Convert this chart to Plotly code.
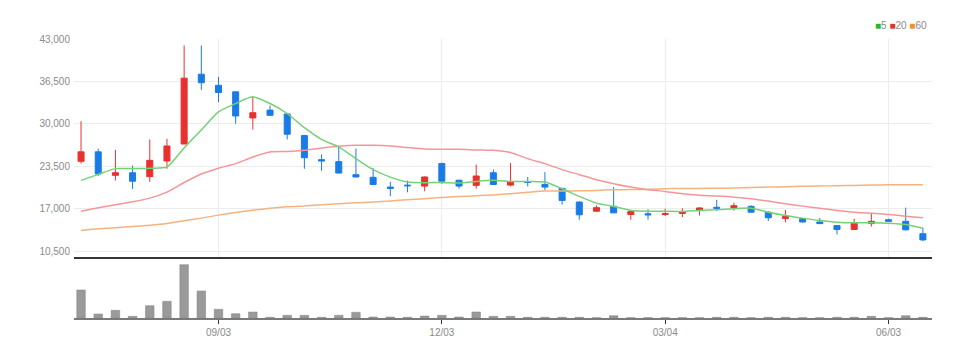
import plotly.graph_objects as go

dates = ["2020-07-09", "2020-07-16", "2020-07-23", "2020-07-30", "2020-08-06", "2020-08-13",
         "2020-08-20", "2020-08-27", "2020-09-03", "2020-09-10", "2020-09-17", "2020-09-24",
         "2020-10-01", "2020-10-08", "2020-10-15", "2020-10-22", "2020-10-29", "2020-11-05",
         "2020-11-12", "2020-11-19", "2020-11-26", "2020-12-03", "2020-12-10", "2020-12-17",
         "2020-12-24", "2020-12-31", "2021-01-07", "2021-01-14", "2021-01-21", "2021-01-28",
         "2021-02-04", "2021-02-11", "2021-02-18", "2021-02-25", "2021-03-04", "2021-03-11",
         "2021-03-18", "2021-03-25", "2021-04-01", "2021-04-08", "2021-04-15", "2021-04-22",
         "2021-04-29", "2021-05-06", "2021-05-13", "2021-05-20", "2021-05-27", "2021-06-03",
         "2021-06-10", "2021-06-17"]

opens = [24250, 25700, 22100, 22500, 21900, 24300, 26900, 37600, 35900, 34900,
         30900, 32100, 31500, 28200, 24500, 24200, 22200, 21800, 20300, 20600,
         20450, 23900, 21350, 20550, 22500, 20600, 21150, 20700, 20100, 18000,
         16600, 17350, 16100, 16200, 16100, 16250, 16800, 17200, 17150, 17350,
         16450, 15500, 15450, 14950, 14400, 13800, 14700, 15300, 15050, 13150]
highs = [30400, 26200, 26000, 23600, 27600, 27700, 42000, 42000, 37200, 34900,
         34100, 32800, 31600, 28300, 25300, 26450, 26200, 23200, 21100, 21300,
         21950, 24050, 21450, 23750, 23000, 24000, 21850, 22600, 20200, 18100,
         17500, 20300, 16800, 16900, 17000, 17050, 17200, 18350, 17900, 17500,
         16600, 16800, 15550, 15550, 14450, 15450, 16350, 15450, 17150, 14050]
lows = [23900, 22000, 21300, 20000, 21100, 23100, 26900, 35200, 33300, 30000,
        29100, 31250, 27600, 23100, 22800, 22400, 21800, 20600, 18900, 19500,
        19650, 20800, 20050, 20050, 20600, 20400, 20400, 19800, 17600, 15300,
        16550, 16300, 15300, 15300, 15850, 15700, 15950, 16650, 16700, 16400,
        15100, 14900, 14850, 14650, 13050, 13750, 14250, 15000, 13650, 12000]
closes = [25700, 22300, 22500, 21200, 24400, 26600, 37000, 36300, 34800, 31200,
          31700, 31300, 28400, 24800, 24300, 22450, 21850, 20700, 20100, 20500,
          21850, 21200, 20450, 22000, 20700, 21150, 21000, 20300, 18250, 16050,
          17150, 16350, 16550, 16050, 16250, 16450, 17100, 17050, 17450, 16450,
          15600, 15800, 14950, 14700, 13800, 14750, 15050, 15050, 13750, 12200]

ma5 = [21330, 22250, 23130, 23130, 23200, 23370, 26300, 29050, 31830, 33120,
       34130, 33120, 31580, 29400, 27600, 26450, 24660, 22970, 21830, 21070,
       20970, 21020, 20920, 21170, 21330, 21170, 21170, 21070, 20050, 18870,
       17840, 17330, 16720, 16610, 16610, 16560, 16720, 16820, 16980, 17070,
       16450, 15950, 15540, 15180, 14920, 14820, 14820, 14770, 14560, 14000]
ma20 = [16610, 17130, 17590, 18050, 18610, 19530, 21000, 22300, 23200, 23900,
        24910, 25680, 25750, 25940, 26300, 26550, 26700, 26700, 26600, 26350,
        26150, 26100, 26100, 26000, 25940, 25600, 24660, 23890, 22970, 22200,
        21430, 20820, 20300, 19900, 19640, 19280, 19050, 18920, 18760, 18510,
        18150, 17740, 17380, 17070, 16720, 16450, 16300, 16100, 15840, 15590]
ma60 = [13640, 13900, 14080, 14250, 14450, 14720, 15130, 15540, 16000, 16400,
        16750, 17070, 17280, 17400, 17600, 17760, 17880, 18000, 18180, 18360,
        18520, 18700, 18840, 18970, 19100, 19280, 19500, 19680, 19700, 19720,
        19790, 19880, 19920, 19950, 20050, 20080, 20100, 20120, 20150, 20220,
        20300, 20360, 20410, 20460, 20510, 20560, 20610, 20640, 20660, 20670]

volumes = [280000, 40000, 77000, 17000, 123000, 167000, 533000, 270000, 87000, 43000,
           60000, 7000, 27000, 27000, 7000, 27000, 57000, 10000, 10000, 7000,
           20000, 27000, 10000, 60000, 17000, 17000, 7000, 7000, 7000, 7000,
           3000, 23000, 3000, 3000, 3000, 3000, 3000, 7000, 7000, 3000,
           7000, 7000, 3000, 3000, 7000, 7000, 17000, 3000, 23000, 7000]

price_ticks = [10500, 17000, 23500, 30000, 36500, 43000]
x_tick_dates = ["2020-09-03", "2020-12-03", "2021-03-04", "2021-06-03"]
x_tick_labels = ["09/03", "12/03", "03/04", "06/03"]

RED = "#e8312f"
BLUE = "#1a7be6"
FONT = "Liberation Sans Narrow, Arial Narrow, sans-serif"

fig = go.Figure()
fig.add_trace(go.Scatter(x=dates, y=ma60, mode="lines", line=dict(color="#f6b27e", width=1.5, shape="spline", smoothing=0.6),
                         xaxis="x", yaxis="y", hoverinfo="skip"))
fig.add_trace(go.Scatter(x=dates, y=ma20, mode="lines", line=dict(color="#f5959a", width=1.5, shape="spline", smoothing=0.6),
                         xaxis="x", yaxis="y", hoverinfo="skip"))
fig.add_trace(go.Scatter(x=dates, y=ma5, mode="lines", line=dict(color="#74d174", width=1.5, shape="spline", smoothing=0.6),
                         xaxis="x", yaxis="y", hoverinfo="skip"))
fig.add_trace(go.Candlestick(x=dates, open=opens, high=highs, low=lows, close=closes,
                             increasing=dict(line=dict(color=RED, width=1), fillcolor=RED),
                             decreasing=dict(line=dict(color=BLUE, width=1), fillcolor=BLUE),
                             whiskerwidth=0, xaxis="x", yaxis="y"))
fig.add_trace(go.Bar(x=dates, y=volumes, marker=dict(color="#9a9a9a", line=dict(color="#858585", width=0.5)),
                     xaxis="x2", yaxis="y2"))

xrange = [-0.41, 49.53]
fig.update_layout(
    width=969, height=350,
    margin=dict(l=66, r=45, t=31, b=40),
    paper_bgcolor="white", plot_bgcolor="white",
    showlegend=False,
    bargap=0.5,
    boxgap=0.5,
    font=dict(family=FONT, size=10, color="#8a8a8a"),
    xaxis=dict(type="category", range=xrange, anchor="y", rangeslider=dict(visible=False),
               tickvals=x_tick_dates, showticklabels=False, ticks="",
               showgrid=True, gridcolor="#ececec", gridwidth=1,
               showline=True, linecolor="#333333", linewidth=2, zeroline=False),
    yaxis=dict(domain=[0.2186, 1], range=[9580, 43000], tickvals=price_ticks, tickformat=",",
               showgrid=True, gridcolor="#ececec", gridwidth=1, zeroline=False, ticks="",
               tickfont=dict(family=FONT, size=10, color="#8a8a8a"), ticklabelstandoff=3),
    xaxis2=dict(type="category", range=xrange, anchor="y2", matches="x",
                tickvals=x_tick_dates, ticktext=x_tick_labels, ticks="outside", ticklen=4,
                tickcolor="#333333", tickwidth=1, showgrid=False,
                showline=True, linecolor="#7a7a7a", linewidth=2, zeroline=False,
                tickfont=dict(family=FONT, size=10, color="#8a8a8a")),
    yaxis2=dict(domain=[0, 0.2079], range=[0, 580000], visible=False, showgrid=False),
    annotations=[dict(
        x=0.9965, y=1.05, xref="paper", yref="paper", xanchor="right", yanchor="middle",
        showarrow=False,
        text='<span style="color:#2cb52c">■</span>5 <span style="color:#e8312f">■</span>20 '
             '<span style="color:#f0902a">■</span>60',
        font=dict(family=FONT, size=10, color="#8a8a8a"))],
)

fig.write_html("out.html")
